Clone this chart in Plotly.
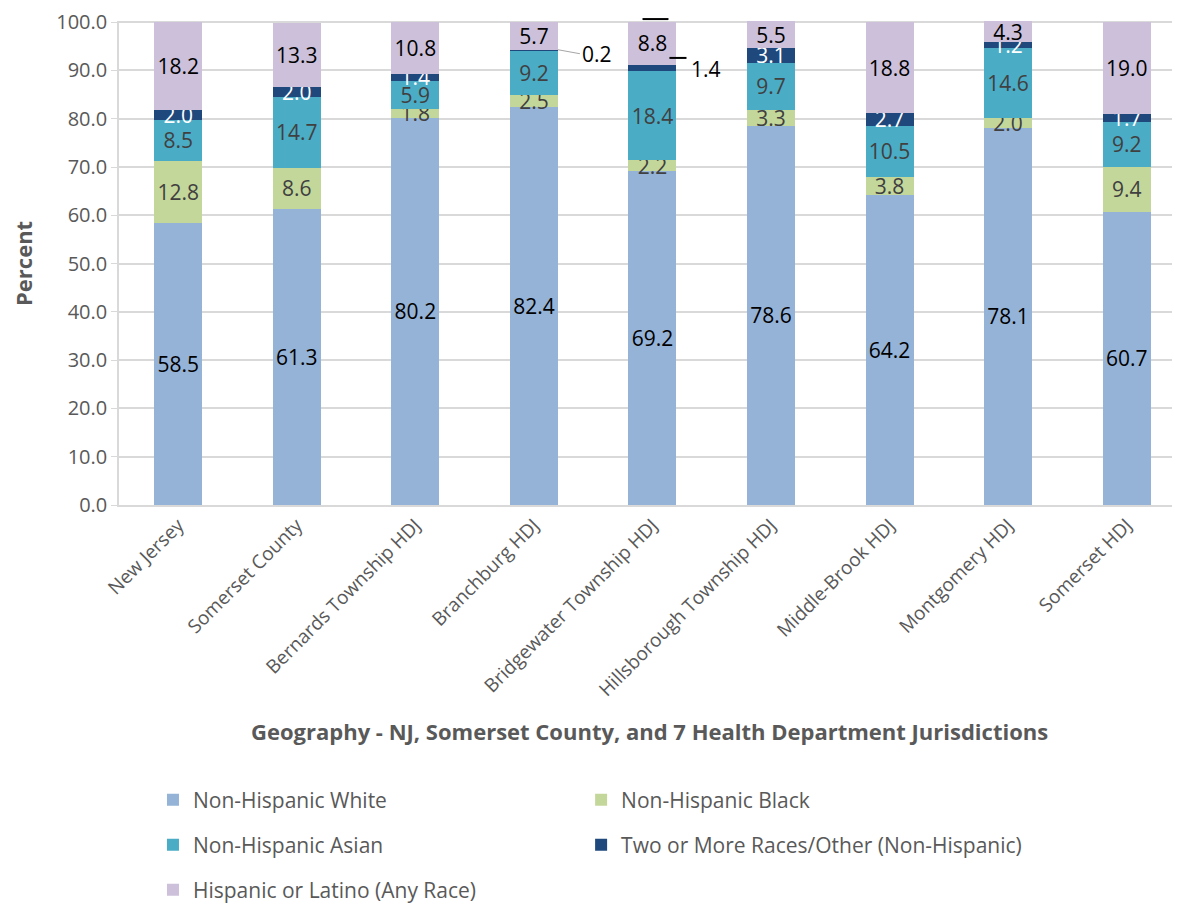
import plotly.graph_objects as go

# Data
geographies = ["New Jersey", "Somerset County", "Bernards Township HDJ", "Branchburg HDJ",
               "Bridgewater Township HDJ", "Hillsborough Township HDJ", "Middle-Brook HDJ",
               "Montgomery HDJ", "Somerset HDJ"]
nh_white = [58.5, 61.3, 80.2, 82.4, 69.2, 78.6, 64.2, 78.1, 60.7]
nh_black = [12.8, 8.6, 1.8, 2.5, 2.2, 3.3, 3.8, 2.0, 9.4]
nh_asian = [8.5, 14.7, 5.9, 9.2, 18.4, 9.7, 10.5, 14.6, 9.2]
two_more = [2.0, 2.0, 1.4, 0.2, 1.4, 3.1, 2.7, 1.2, 1.7]
hispanic = [18.2, 13.3, 10.8, 5.7, 8.8, 5.5, 18.8, 4.3, 19.0]

# labels drawn outside the bar (with a leader) instead of inside
outside = ["Branchburg HDJ", "Bridgewater Township HDJ"]

FONT = "Open Sans"
GRAY = "#595959"

series = [
    ("Non-Hispanic White", nh_white, "#95B3D7", "black"),
    ("Non-Hispanic Black", nh_black, "#C4D79B", "#404040"),
    ("Non-Hispanic Asian", nh_asian, "#4BACC6", "#404040"),
    ("Two or More Races/Other (Non-Hispanic)", two_more, "#1F497D", "white"),
    ("Hispanic or Latino (Any Race)", hispanic, "#CCC0DA", "black"),
]
legend_pos = [(0.1237, 0.115), (0.489, 0.115), (0.1237, 0.0648),
              (0.489, 0.0648), (0.1237, 0.0145)]

fig = go.Figure()
for i, (name, vals, color, tcolor) in enumerate(series):
    text = [f"{v:.1f}" for v in vals]
    if name.startswith("Two"):
        text = ["" if g in outside else t for g, t in zip(geographies, text)]
    fig.add_trace(go.Bar(
        name=name, x=geographies, y=vals, marker=dict(color=color, line=dict(width=0)),
        text=text, textposition="inside", insidetextanchor="middle",
        textfont=dict(family=FONT, size=21, color=tcolor), textangle=0,
        constraintext="none", cliponaxis=False,
        legend="legend" if i == 0 else f"legend{i + 1}",
    ))

legends = {}
for i, (x, y) in enumerate(legend_pos):
    key = "legend" if i == 0 else f"legend{i + 1}"
    legends[key] = dict(x=x, y=y, xref="container", yref="container", xanchor="left",
                        yanchor="middle", bgcolor="rgba(0,0,0,0)",
                        font=dict(family=FONT, size=21, color=GRAY), itemwidth=30)

# outside labels for the thin "Two or more" segments
bi = geographies.index("Branchburg HDJ")
top_b = nh_white[bi] + nh_black[bi] + nh_asian[bi] + two_more[bi]
fig.add_annotation(x=geographies[bi], y=top_b, xref="x", yref="y", text=f"{two_more[bi]:.1f}",
                   showarrow=True, arrowhead=0, arrowwidth=1, arrowcolor="#A6A6A6",
                   ax=22, ay=4, xshift=24, xanchor="left",
                   font=dict(family=FONT, size=21, color="black"))
wi = geographies.index("Bridgewater Township HDJ")
top_w = nh_white[wi] + nh_black[wi] + nh_asian[wi] + two_more[wi]
fig.add_annotation(x=geographies[wi], y=top_w, xref="x", yref="y", text=f"{two_more[wi]:.1f}",
                   showarrow=False, xshift=54, yshift=-4,
                   font=dict(family=FONT, size=21, color="black"))
fig.add_shape(type="line", xref="x", yref="y", x0=wi + 0.143, x1=wi + 0.287,
              y0=top_w + 1.4, y1=top_w + 1.4, line=dict(color="black", width=2))
fig.add_shape(type="line", xref="x", yref="paper", x0=wi - 0.084, x1=wi + 0.135,
              y0=1.004, y1=1.004, line=dict(color="black", width=2))

# axis titles
fig.add_annotation(x=-0.0905, y=0.5, xref="paper", yref="paper", textangle=-90,
                   xanchor="center", yanchor="middle",
                   text="<b>Percent</b>", showarrow=False,
                   font=dict(family=FONT, size=22, color=GRAY))
fig.add_annotation(x=0.5, y=-0.466, xref="paper", yref="paper",
                   xanchor="center", yanchor="middle",
                   text="<b>Geography - NJ, Somerset County, and 7 Health Department Jurisdictions</b>",
                   showarrow=False, font=dict(family=FONT, size=22, color=GRAY))

fig.update_layout(
    barmode="stack", bargap=0.595,
    width=1172, height=895,
    margin=dict(l=111, r=0, t=13, b=398, autoexpand=False),
    plot_bgcolor="white", paper_bgcolor="white",
    font=dict(family=FONT, size=20, color=GRAY),
    showlegend=True,
    **legends,
)
fig.update_xaxes(
    type="category", categoryorder="array", categoryarray=geographies,
    range=[-0.5, 8.45], tickangle=-45, showline=True, linecolor="#D9D9D9", linewidth=1.5,
    tickfont=dict(family=FONT, size=19, color=GRAY), ticks="",
)
fig.update_yaxes(
    range=[0, 100.25], tickvals=[0, 10, 20, 30, 40, 50, 60, 70, 80, 90, 100],
    tickformat=".1f", showgrid=True, gridcolor="#D9D9D9",
    gridwidth=1.5, showline=True, linecolor="#D9D9D9", linewidth=1.5,
    ticks="outside", ticklen=6, tickcolor="#D9D9D9", ticklabeloverflow="allow",
    tickfont=dict(family=FONT, size=20, color=GRAY),
)

fig.write_html("out.html")
